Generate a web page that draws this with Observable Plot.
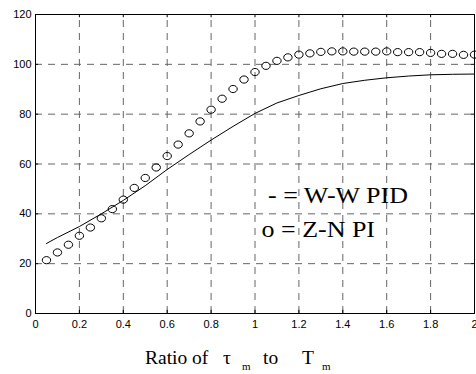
<!DOCTYPE html>
<html><head><meta charset="utf-8">
<script src="https://cdn.jsdelivr.net/npm/d3@7"></script>
<script src="https://cdn.jsdelivr.net/npm/@observablehq/plot@0.6"></script>
<style>
body{margin:0;background:#fff;}
#chart{position:relative;width:476px;height:374px;}
</style>
</head><body><div id="chart"></div>
<script>
const xTicks = [0, 0.2, 0.4, 0.6, 0.8, 1, 1.2, 1.4, 1.6, 1.8, 2];
const xTickLabels = ["0", "0.2", "0.4", "0.6", "0.8", "1", "1.2", "1.4", "1.6", "1.8", "2"];
const yTicks = [0, 20, 40, 60, 80, 100, 120];

// "o = Z-N PI" series (circles)
const xCircles = [0.05, 0.10, 0.15, 0.20, 0.25, 0.30, 0.35, 0.40, 0.45, 0.50,
                  0.55, 0.60, 0.65, 0.70, 0.75, 0.80, 0.85, 0.90, 0.95, 1.00,
                  1.05, 1.10, 1.15, 1.20, 1.25, 1.30, 1.35, 1.40, 1.45, 1.50,
                  1.55, 1.60, 1.65, 1.70, 1.75, 1.80, 1.85, 1.90, 1.95, 2.00];
const yCircles = [21.4, 24.5, 27.6, 31.2, 34.5, 38.2, 41.9, 45.7, 50.4, 54.4,
                  58.6, 63.2, 67.8, 72.3, 77.1, 81.8, 86.2, 90.1, 93.9, 96.9,
                  99.4, 101.4, 102.8, 103.9, 104.4, 105.0, 105.2, 105.2, 105.1, 105.1,
                  105.1, 105.2, 104.9, 104.9, 104.9, 104.6, 104.2, 104.2, 103.8, 103.9];

// "- = W-W PID" series (solid line)
const xLine = [0.05, 0.1, 0.2, 0.3, 0.4, 0.5, 0.6, 0.7, 0.8, 0.9, 1.0,
               1.1, 1.2, 1.3, 1.4, 1.5, 1.6, 1.7, 1.8, 1.9, 2.0];
const yLine = [28.1, 30.5, 34.9, 40.0, 45.4, 51.3, 57.8, 63.8, 69.6, 75.1, 80.3,
               84.5, 87.5, 90.2, 92.3, 93.6, 94.6, 95.3, 95.8, 96.0, 96.1];

const legendLines = ["- = W-W PID", "o = Z-N PI"];

const circles = xCircles.map((x, i) => ({x, y: yCircles[i]}));
const lineData = xLine.map((x, i) => ({x, y: yLine[i]}));

const ellipse = {
  draw(ctx, size) {
    const rx = 4.2, ry = 3.6, k = 0.5523;
    ctx.moveTo(rx, 0);
    ctx.bezierCurveTo(rx, k * ry, k * rx, ry, 0, ry);
    ctx.bezierCurveTo(-k * rx, ry, -rx, k * ry, -rx, 0);
    ctx.bezierCurveTo(-rx, -k * ry, -k * rx, -ry, 0, -ry);
    ctx.bezierCurveTo(k * rx, -ry, rx, -k * ry, rx, 0);
    ctx.closePath();
  }
};

const plot = Plot.plot({
  width: 476,
  height: 374,
  marginLeft: 35,
  marginRight: 2,
  marginTop: 14,
  marginBottom: 61,
  style: {fontFamily: "'Liberation Sans', Arial, sans-serif", fontSize: "11px", background: "white", color: "black"},
  x: {domain: [0, 2], ticks: xTicks, tickFormat: (d, i) => xTickLabels[xTicks.indexOf(d)], tickSize: 0, tickPadding: 7, label: null},
  y: {domain: [0, 120], ticks: yTicks, tickSize: 0, tickPadding: 4, label: null},
  marks: [
    Plot.ruleX(xTicks, {x: d => d, y1: 0, y2: 120, stroke: "#666", strokeDasharray: "7,6", strokeWidth: 1}),
    Plot.ruleY(yTicks, {y: d => d, x1: 0, x2: 2, stroke: "#666", strokeDasharray: "7,6", strokeWidth: 1}),
    Plot.ruleX(xTicks, {x: d => d, y1: 0, y2: 1.3, stroke: "black"}),
    Plot.ruleX(xTicks, {x: d => d, y1: 120, y2: 118.7, stroke: "black"}),
    Plot.ruleY(yTicks, {y: d => d, x1: 0, x2: 0.014, stroke: "black"}),
    Plot.ruleY(yTicks, {y: d => d, x1: 2, x2: 1.986, stroke: "black"}),
    Plot.line(lineData, {x: "x", y: "y", stroke: "black", strokeWidth: 1}),
    Plot.dot(circles, {x: "x", y: "y", symbol: ellipse, stroke: "black", fill: "none", strokeWidth: 1}),
    Plot.frame({stroke: "black", strokeWidth: 1})
  ]
});

document.getElementById("chart").appendChild(plot);

const svg = d3.select(plot);
const serif = "'Liberation Serif', 'Times New Roman', serif";
const g = svg.append("g").attr("font-family", serif).attr("fill", "black").attr("text-anchor", "start");
function txt(s, x, y, size, sx) {
  g.append("text")
    .attr("text-anchor", "start")
    .attr("transform", `translate(${x},${y}) scale(${sx},1)`)
    .attr("font-size", size)
    .text(s);
}
// legend annotation
txt(legendLines[0], 268, 203, 23, 1.13);
txt(legendLines[1], 261.5, 236.5, 23, 1.13);
// x-axis label: Ratio of tau_m to T_m
txt("Ratio of", 145, 364, 19.5, 1);
txt("τ", 223, 364, 19.5, 1);
txt("m", 242, 370, 11, 1);
txt("to", 263, 364, 19.5, 1);
txt("T", 302, 364, 19.5, 1);
txt("m", 322, 370, 11, 1);
</script>
</body></html>
